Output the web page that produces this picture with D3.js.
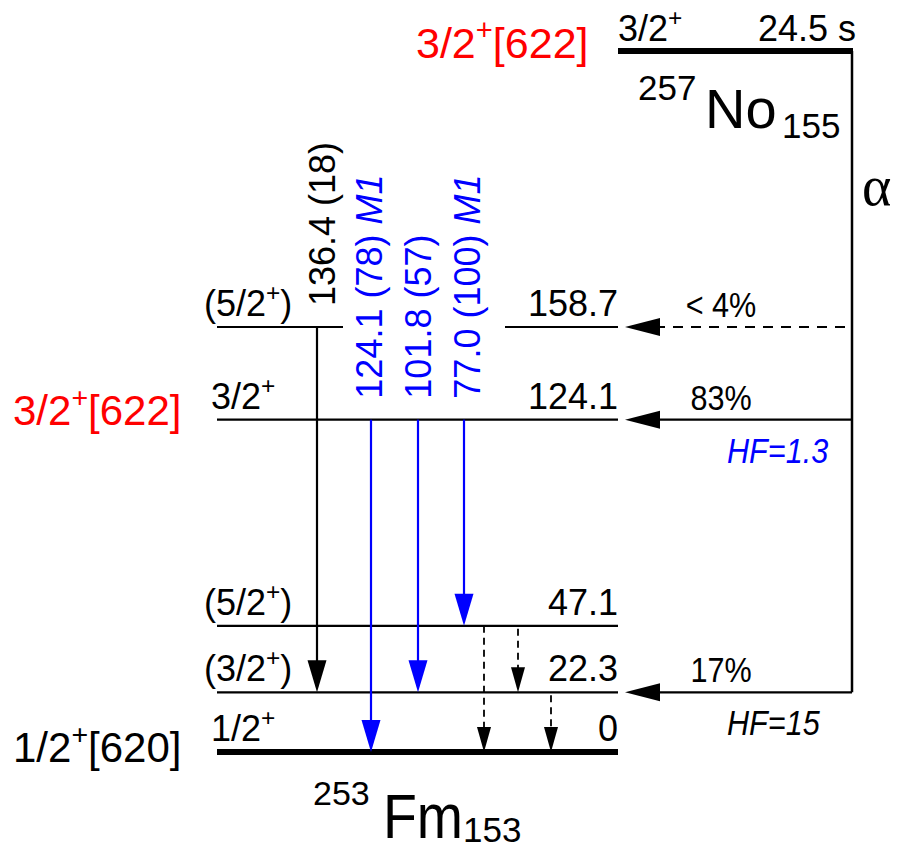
<!DOCTYPE html>
<html>
<head>
<meta charset="utf-8">
<script src="https://cdn.jsdelivr.net/npm/d3@7"></script>
<style>
  html, body { margin: 0; padding: 0; background: #fff; }
  svg { display: block; font-family: "Liberation Sans", Arial, Helvetica, sans-serif; }
</style>
</head>
<body>
<svg id="scheme" width="900" height="846"></svg>
<script>
// ---- 253Fm levels fed in the alpha decay of 257No ----
const levelEnergies = [0, 22.3, 47.1, 124.1, 158.7];          // keV
const levelSpins    = ["1/2+", "(3/2+)", "(5/2+)", "3/2+", "(5/2+)"];
const levelLabels   = ["0", "22.3", "47.1", "124.1", "158.7"];

// Nilsson configurations of band heads
const bandHeadEnergies = [124.1, 0];
const bandHeadLabels   = ["3/2+[622]", "1/2+[620]"];

// Observed gamma transitions
const gammaEnergies      = [136.4, 124.1, 101.8, 77.0];
const gammaIntensities   = [18, 78, 57, 100];
const gammaMultipolarity = ["", "M1", "", "M1"];
const gammaFrom          = [158.7, 124.1, 124.1, 124.1];
const gammaTo            = [22.3, 0, 22.3, 47.1];

// Unobserved (converted) transitions
const weakFrom = [47.1, 47.1, 22.3];
const weakTo   = [0, 22.3, 0];

// Alpha feeding
const alphaLevels     = [158.7, 124.1, 22.3];
const alphaBranchings = ["< 4%", "83%", "17%"];
const alphaHF         = [null, 1.3, 15];
const alphaUpperLimit = [true, false, false];

// Parent and daughter
const parentSpin     = "3/2+";
const parentHalfLife = "24.5 s";
const parentNilsson  = "3/2+[622]";
const parentName     = ["257", "No", "155"];
const daughterName   = ["253", "Fm", "153"];

// ---- layout ----
const favoured = 124.1;                 // level with the parent configuration
const X0 = 217, X1 = 618;               // level line extent
const layout = {
  gammaX:   [317, 371, 418, 464],
  labelDx:  [18, 11, 13, 16],
  weakX:    [484, 518, 551],
  gap:      [343, 505],                 // break in the 158.7 line for the labels
  alphaX:   852,
  parentY:  51,
  parentX0: 618,
  parentName:   { x: [638, 705, 782], y: [100, 128, 138], size: [35, 56, 35], sx: 1 },
  daughterName: { x: [313, 383, 463], y: [805, 838, 842], size: [34, 63, 35], sx: 0.88 }
};
const BLUE = "#0000ff", RED = "#ff0000";
const FS = 36;

const svg = d3.select("#scheme");
const y = d3.scaleLinear().domain([0, 158.7]).range([752, 327]);

// text with +/- parity signs raised as superscripts
function richLabel(sel, str, fs) {
  const parts = str.split(/([+\-])/).filter(s => s !== "");
  let raised = false;
  parts.forEach(p => {
    const sup = (p === "+" || p === "-");
    const t = sel.append("tspan").text(p);
    if (sup) { t.attr("font-size", fs * 0.68).attr("dy", -fs * 0.42); raised = true; }
    else if (raised) { t.attr("dy", fs * 0.42); raised = false; }
  });
  return sel;
}

// nuclide symbol: mass number up-left, neutron number down-right
function nuclide(parts, pos) {
  parts.forEach((p, i) => {
    svg.append("text")
      .attr("transform", `translate(${pos.x[i]},${pos.y[i]}) scale(${i === 1 ? pos.sx : 1},1)`)
      .attr("font-size", pos.size[i]).attr("fill", "#000").text(p);
  });
}

function arrowHead(g, tipX, tipY, dir, len, half, color) {
  let pts;
  if (dir === "down") pts = [[tipX, tipY], [tipX - half, tipY - len], [tipX + half, tipY - len]];
  else pts = [[tipX, tipY], [tipX + len, tipY - half], [tipX + len, tipY + half]];
  g.append("path").attr("d", d3.line()(pts) + "Z").attr("fill", color).attr("stroke", "none");
}

// ---- levels ----
const gLevels = svg.append("g");
levelEnergies.forEach((E, i) => {
  const yy = y(E);
  const thick = E === 0 ? 6 : 2.2;
  const spans = E === 158.7 ? [[X0, layout.gap[0]], [layout.gap[1], X1]] : [[X0, X1]];
  spans.forEach(s => {
    gLevels.append("line").attr("x1", s[0]).attr("x2", s[1]).attr("y1", yy).attr("y2", yy)
      .attr("stroke", "#000").attr("stroke-width", thick);
  });
  const paren = levelSpins[i].startsWith("(");
  richLabel(gLevels.append("text").attr("x", paren ? 204 : 211).attr("y", yy - 11)
    .attr("font-size", FS).attr("fill", "#000"), levelSpins[i], FS);
  gLevels.append("text").attr("x", X1).attr("y", yy - 11).attr("text-anchor", "end")
    .attr("font-size", FS).attr("fill", "#000").text(levelLabels[i]);
});

// band-head configurations on the left
bandHeadEnergies.forEach((E, i) => {
  richLabel(svg.append("text").attr("x", 13).attr("y", y(E) + (E === 0 ? 10 : 5))
    .attr("font-size", 42).attr("fill", E === favoured ? RED : "#000"), bandHeadLabels[i], 42);
});

// ---- gamma transitions ----
const gGamma = svg.append("g");
gammaEnergies.forEach((E, i) => {
  const x = layout.gammaX[i];
  const col = gammaFrom[i] === favoured ? BLUE : "#000";
  const y1 = y(gammaFrom[i]), y2 = y(gammaTo[i]);
  gGamma.append("line").attr("x1", x).attr("x2", x).attr("y1", y1).attr("y2", y2 - 20)
    .attr("stroke", col).attr("stroke-width", 2.2);
  arrowHead(gGamma, x, y2, "down", 32, 9.5, col);
  const lbl = gGamma.append("text")
    .attr("transform", `translate(${x + layout.labelDx[i]},${y1 - 21}) rotate(-90)`)
    .attr("font-size", FS).attr("fill", col)
    .text(`${E.toFixed(1)} (${gammaIntensities[i]})`);
  if (gammaMultipolarity[i]) {
    lbl.append("tspan").attr("font-style", "italic").text(" " + gammaMultipolarity[i]);
  }
});

weakFrom.forEach((E, i) => {
  const x = layout.weakX[i];
  const y1 = y(E), y2 = y(weakTo[i]);
  gGamma.append("line").attr("x1", x).attr("x2", x).attr("y1", y1 + (i === 0 ? 0 : 3)).attr("y2", y2 - 15)
    .attr("stroke", "#000").attr("stroke-width", 1.8).attr("stroke-dasharray", "7,5");
  arrowHead(gGamma, x, y2, "down", 25, 7, "#000");
});

// ---- parent level and alpha feeding ----
const gAlpha = svg.append("g");
gAlpha.append("line").attr("x1", layout.parentX0).attr("x2", layout.alphaX + 1)
  .attr("y1", layout.parentY).attr("y2", layout.parentY)
  .attr("stroke", "#000").attr("stroke-width", 6);
gAlpha.append("line").attr("x1", layout.alphaX).attr("x2", layout.alphaX)
  .attr("y1", layout.parentY).attr("y2", y(d3.min(alphaLevels)))
  .attr("stroke", "#000").attr("stroke-width", 2.5);

richLabel(svg.append("text").attr("x", 618).attr("y", 41).attr("font-size", FS), parentSpin, FS);
svg.append("text").attr("x", 856).attr("y", 41).attr("text-anchor", "end")
  .attr("font-size", FS).text(parentHalfLife);
richLabel(svg.append("text").attr("x", 416).attr("y", 58).attr("font-size", 43).attr("fill", RED),
  parentNilsson, 43);
nuclide(parentName, layout.parentName);
nuclide(daughterName, layout.daughterName);
svg.append("text").attr("x", 862).attr("y", 205).attr("font-size", 56)
  .attr("font-family", "'Liberation Serif', 'Times New Roman', serif").text("α");

alphaLevels.forEach((E, i) => {
  const yy = y(E);
  gAlpha.append("line").attr("x1", 655).attr("x2", layout.alphaX).attr("y1", yy).attr("y2", yy)
    .attr("stroke", "#000").attr("stroke-width", alphaUpperLimit[i] ? 1.8 : 2.2)
    .attr("stroke-dasharray", alphaUpperLimit[i] ? "10,8" : null);
  arrowHead(gAlpha, 625, yy, "left", 35, 9, "#000");
  gAlpha.append("text").attr("transform", `translate(721,${yy - 10}) scale(0.85,1)`)
    .attr("text-anchor", "middle").attr("font-size", FS).text(alphaBranchings[i]);
  if (alphaHF[i] !== null) {
    gAlpha.append("text").attr("transform", `translate(727,${yy + 43}) scale(0.85,1)`)
      .attr("font-size", FS).attr("font-style", "italic")
      .attr("fill", E === favoured ? BLUE : "#000")
      .text("HF=" + alphaHF[i]);
  }
});
</script>
</body>
</html>
